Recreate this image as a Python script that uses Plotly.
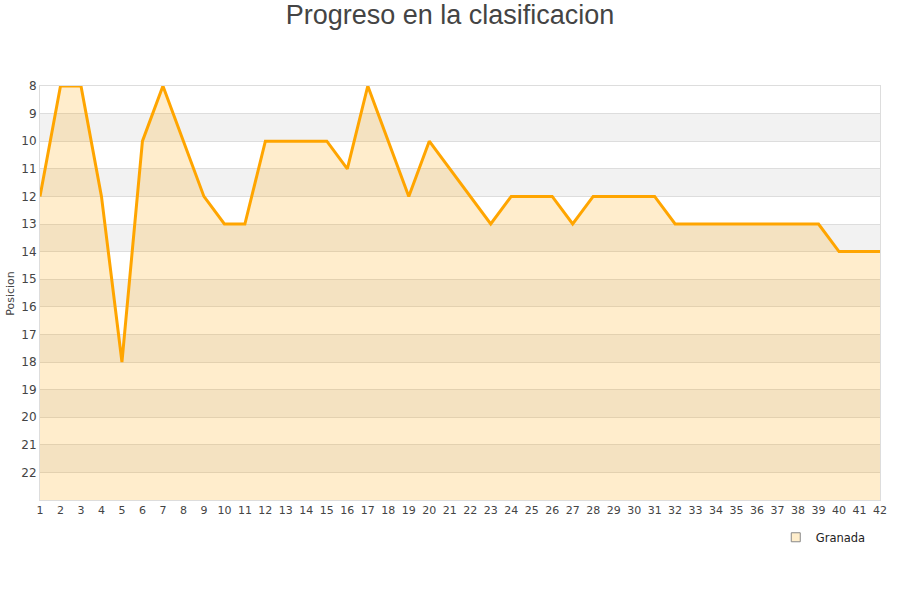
import plotly.graph_objects as go

jornadas = list(range(1, 43))
posicion = [12, 8, 8, 12, 18, 10, 8, 10, 12, 13, 13, 10, 10, 10, 10, 11, 8, 10, 12, 10,
            11, 12, 13, 12, 12, 12, 13, 12, 12, 12, 12, 13, 13, 13, 13, 13, 13, 13, 13, 14,
            14, 14]
equipo = "Granada"
y_ticks = list(range(8, 23))
y_min, y_max = 8, 23

fig = go.Figure()
# baseline for fill
fig.add_trace(go.Scatter(x=jornadas, y=[y_max] * len(jornadas), mode="lines",
                         line=dict(width=0), showlegend=False, hoverinfo="skip"))
fig.add_trace(go.Scatter(x=jornadas, y=posicion, mode="lines", fill="tonexty",
                         fillcolor="rgba(255,165,0,0.2)",
                         line=dict(color="#FFA500", width=3), showlegend=False, name=equipo))
fig.add_trace(go.Scatter(x=[None], y=[None], mode="markers", name=equipo,
                         marker=dict(symbol="square", size=9, color="#FFEECC",
                                     line=dict(color="#888888", width=1))))

shapes = []
for v in range(y_min + 1, y_max, 2):
    shapes.append(dict(type="rect", xref="paper", yref="y", x0=0, x1=1, y0=v, y1=v + 1,
                       fillcolor="#F2F2F2", line=dict(width=0), layer="below"))

fig.update_layout(
    width=900, height=600,
    paper_bgcolor="white", plot_bgcolor="white",
    margin=dict(l=40, r=20, t=86, b=100),
    font=dict(family="DejaVu Sans", size=11, color="#444444"),
    title=dict(text="Progreso en la clasificacion", x=0.5, xanchor="center",
               y=0.975, yanchor="middle",
               font=dict(family="Liberation Sans", size=27, color="#444444")),
    shapes=shapes,
    showlegend=True,
    legend=dict(x=0.989, xanchor="right", y=-0.09, yanchor="middle", itemwidth=30,
                bgcolor="rgba(0,0,0,0)", font=dict(size=11.5, color="#222222")),
    annotations=[dict(text="Posicion", textangle=-90, xref="paper", yref="paper",
                      x=-0.036, y=0.5, xanchor="center", yanchor="middle",
                      showarrow=False, font=dict(size=11, color="#444444"))],
)
fig.update_xaxes(range=[1, 42], tickmode="array", tickvals=jornadas,
                 showgrid=False, showline=True, linecolor="#DDDDDD", linewidth=1,
                 mirror=True, ticks="", zeroline=False, tickfont=dict(size=11))
fig.update_yaxes(range=[y_max, y_min], tickmode="array", tickvals=y_ticks,
                 showgrid=True, gridcolor="#DDDDDD", showline=True, linecolor="#DDDDDD",
                 linewidth=1, mirror=True, ticks="", zeroline=False, tickfont=dict(size=12))

fig.write_html("out.html", config={"displayModeBar": False},
               post_script="document.body.style.margin='0';")
